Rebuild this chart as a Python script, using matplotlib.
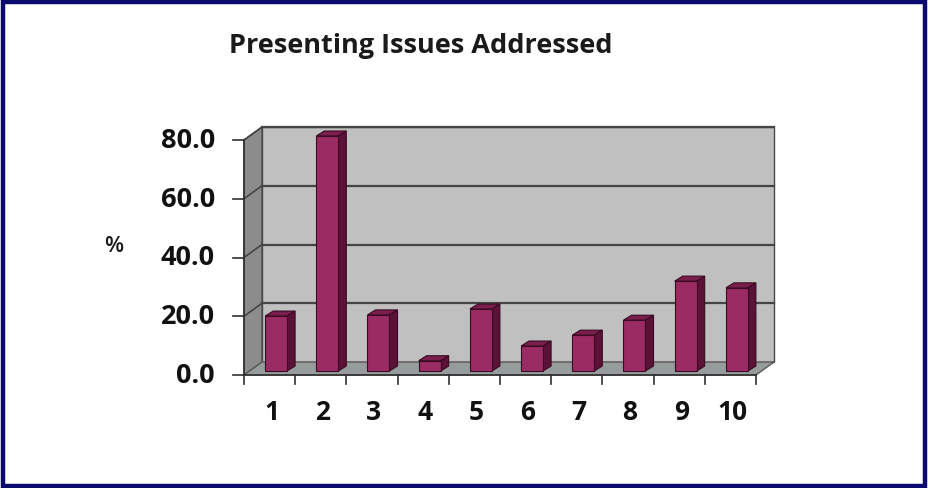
import matplotlib
matplotlib.use("Agg")
import matplotlib.pyplot as plt
from matplotlib.patches import Polygon, Rectangle

categories = ["1", "2", "3", "4", "5", "6", "7", "8", "9", "10"]
values = [18.7, 80.0, 19.1, 3.5, 21.1, 8.5, 12.2, 17.3, 30.6, 28.3]
yticks = [0, 20, 40, 60, 80]
ytick_labels = ["0.0", "20.0", "40.0", "60.0", "80.0"]
title = "Presenting Issues Addressed"

W, H = 929, 489
fig = plt.figure(figsize=(W / 100, H / 100), dpi=100)
fig.patch.set_facecolor("white")

# front plane of the 3d box, in pixels
x0, x1 = 244, 756
y0, y1 = 376, 141
ax = fig.add_axes([x0 / W, 1 - y0 / H, (x1 - x0) / W, (y0 - y1) / H])
ax.set_xlim(0.5, 10.5)
ax.set_ylim(0, 80)
ax.axis("off")

px_x = (x1 - x0) / 10.0   # px per category
px_y = (y0 - y1) / 80.0   # px per unit

def off(dx_px, dy_px):
    return dx_px / px_x, dy_px / px_y

# wall depth
wdx, wdy = off(18, 13)
xl, xr = 0.5, 10.5

def poly(pts, fc, ec="none", lw=0, z=1):
    ax.add_patch(Polygon(pts, closed=True, facecolor=fc, edgecolor=ec,
                         linewidth=lw, zorder=z, clip_on=False))

# back wall
poly([(xl + wdx, wdy), (xr + wdx, wdy), (xr + wdx, 80 + wdy), (xl + wdx, 80 + wdy)],
     "#c0c0c0", "#4a4a4a", 1.0, 1)
# left wall
poly([(xl, 0), (xl + wdx, wdy), (xl + wdx, 80 + wdy), (xl, 80)], "#8c8c8c", "#4a4a4a", 1.0, 1)
# floor
poly([(xl, 0), (xr, 0), (xr + wdx, wdy), (xl + wdx, wdy)], "#969b9b", "#5a5a5a", 1.0, 1)

# gridlines on back and left walls
for v in yticks[1:]:
    ax.plot([xl + wdx, xr + wdx], [v + wdy, v + wdy], color="#454545", lw=1.6,
            zorder=2, clip_on=False)
    ax.plot([xl, xl + wdx], [v, v + wdy], color="#454545", lw=1.2, zorder=2,
            clip_on=False)

# bars
bdx, bdy = off(6.5, 4)     # front face shift
ddx, ddy = off(8, 5)       # bar depth
bw = 22 / px_x
front = "#9b2b63"
top_c = "#7a1f4d"
side_c = "#5a1337"
edge = "#3a0a22"
for i, v in enumerate(values):
    cx = i + 1 + bdx
    l, r = cx - bw / 2, cx + bw / 2
    b, t = bdy, v + bdy
    poly([(l, t), (r, t), (r + ddx, t + ddy), (l + ddx, t + ddy)], top_c, edge, 0.8, 4)
    poly([(r, b), (r + ddx, b + ddy), (r + ddx, t + ddy), (r, t)], side_c, edge, 0.8, 4)
    poly([(l, b), (r, b), (r, t), (l, t)], front, edge, 0.8, 5)

# front axis lines and ticks
ax.plot([xl, xl], [0, 80], color="#303030", lw=1.2, zorder=6, clip_on=False)
ax.plot([xl, xr], [0, 0], color="#303030", lw=1.2, zorder=6, clip_on=False)
tk = 11 / px_x
for v in yticks:
    ax.plot([xl - tk, xl], [v, v], color="#303030", lw=1.2, zorder=6, clip_on=False)
tky = 9 / px_y
for k in range(11):
    ax.plot([xl + k, xl + k], [0, -tky], color="#303030", lw=1.2, zorder=6, clip_on=False)

font = "Open Sans"
lx = xl - 29 / px_x
for v, lab in zip(yticks, ytick_labels):
    ax.text(lx, v, lab, ha="right", va="center", fontsize=19.5, fontweight="bold",
            family=font, color="#111111", clip_on=False)
for i, lab in enumerate(categories):
    ax.text(i + 1 + 2 / px_x, -37 / px_y, lab, ha="center", va="center", fontsize=19,
            fontweight="bold", family=font, color="#111111", clip_on=False)

fig.text(114 / W, 1 - 247 / H, "%", ha="center", va="center", fontsize=16,
         fontweight="semibold", family=font, color="#1a1a1a")
fig.text(421 / W, 1 - 46 / H, title, ha="center", va="center", fontsize=19.5,
         fontweight="bold", family=font, color="#1a1a1a")

# navy frame
fig.patches.append(Rectangle((3.5 / W, 2.5 / H), (W - 7) / W, (H - 5) / H,
                             transform=fig.transFigure, fill=False,
                             edgecolor="#0b0b6e", linewidth=3.2))

fig.savefig("out.png", dpi=100)
